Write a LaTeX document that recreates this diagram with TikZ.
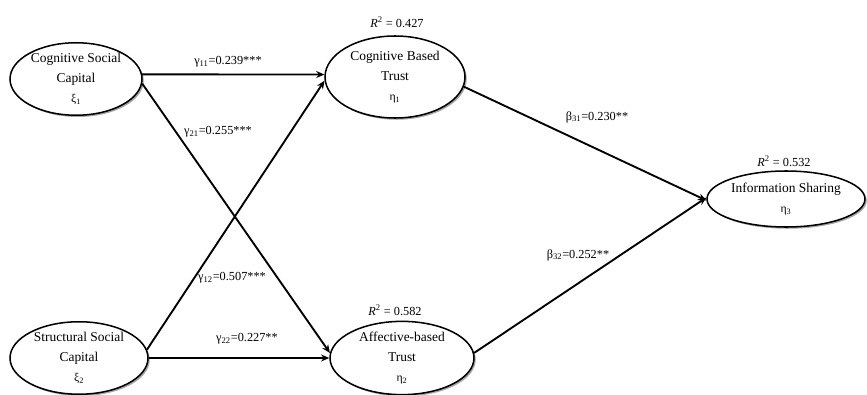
\documentclass[tikz,border=0pt]{standalone}
\usepackage{fontspec}
\setmainfont{Liberation Serif}
\usetikzlibrary{arrows.meta,shapes.geometric,shadows}
\newcommand\idx[1]{{\fontsize{10}{12}\selectfont #1}}
\begin{document}
\begin{tikzpicture}[x=0.03cm,y=-0.03cm,
  latent/.style={ellipse,draw,line width=1.3pt,fill=white,inner sep=0pt,align=center,
    font=\fontsize{11.5}{17}\selectfont,
    drop shadow={shadow xshift=1.5pt,shadow yshift=-1.5pt,fill=black!35,opacity=1}},
  effect/.style={line width=1.6pt,-{Stealth[length=7pt,width=6pt]}},
  coef/.style={font=\fontsize{10.5}{12}\selectfont,inner sep=1pt}]
\useasboundingbox (0,0) rectangle (867,395);
\node[latent,minimum width=3.96cm,minimum height=2.16cm] (csc) at (76,79) {Cognitive Social\\Capital\\\idx{ξ\textsubscript{1}}};
\node[latent,minimum width=4.14cm,minimum height=2.16cm] (ssc) at (79,358) {Structural Social\\Capital\\\idx{ξ\textsubscript{2}}};
\node[latent,minimum width=4.2cm,minimum height=2.46cm] (cbt) at (395,77) {Cognitive Based\\Trust\\\idx{η\textsubscript{1}}};
\node[latent,minimum width=4.32cm,minimum height=2.16cm] (abt) at (402,358) {Affective-based\\Trust\\\idx{η\textsubscript{2}}};
\node[latent,minimum width=4.74cm,minimum height=1.68cm] (is) at (786,199) {Information Sharing\\\idx{η\textsubscript{3}}};
\draw[effect] (csc.4) -- (cbt.178);
\draw[effect] (csc.-4) -- (abt.176);
\draw[effect] (ssc.7) -- (cbt.183);
\draw[effect] (ssc.0) -- (abt.180);
\draw[effect] (cbt.-8) -- (is.181);
\draw[effect] (abt.4) -- (is.179);
\node[coef] (g11) at (228,62) {γ\textsubscript{11}=0.239***};
\node[coef] (g21) at (218,132) {γ\textsubscript{21}=0.255***};
\node[coef] (g12) at (232,278) {γ\textsubscript{12}=0.507***};
\node[coef] (g22) at (247,339) {γ\textsubscript{22}=0.227**};
\node[coef] (b31) at (597,117) {β\textsubscript{31}=0.230**};
\node[coef] (b32) at (578,255) {β\textsubscript{32}=0.252**};
\node[coef] (r1) at (397,22) {\textit{R}\textsuperscript{2} = 0.427};
\node[coef] (r2) at (395,310) {\textit{R}\textsuperscript{2} = 0.582};
\node[coef] (r3) at (784,161) {\textit{R}\textsuperscript{2} = 0.532};
\end{tikzpicture}
\end{document}
